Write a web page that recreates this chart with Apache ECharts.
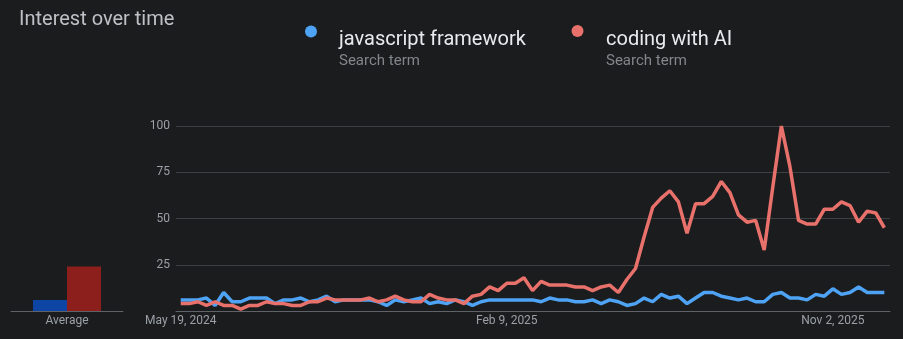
<!DOCTYPE html>
<html>
<head>
<meta charset="utf-8">
<script src="https://cdn.jsdelivr.net/npm/echarts@6/dist/echarts.min.js"></script>
<style>
  html, body { margin: 0; padding: 0; background: #1b1c1e; }
  #chart { width: 903px; height: 339px; }
</style>
</head>
<body>
<div id="chart"></div>
<script>
// ---- data ----
const seriesNames = ['javascript framework', 'coding with AI'];
const startWeek = '2024-05-19';           // first weekly point
const tickIndices = [0, 38, 76];
const tickLabels = ['May 19, 2024', 'Feb 9, 2025', 'Nov 2, 2025'];
const javascriptFramework = [
  6, 6, 6, 7, 3, 10, 5, 5, 7, 7,
  7, 4, 6, 6, 7, 5, 6, 8, 5, 6,
  6, 6, 6, 5, 3, 6, 5, 6, 7, 4,
  5, 4, 6, 5, 3, 5, 6, 6, 6, 6,
  6, 6, 5, 7, 6, 6, 5, 5, 6, 4,
  6, 5, 3, 4, 7, 5, 9, 7, 8, 4,
  7, 10, 10, 8, 7, 6, 7, 5, 5, 9,
  10, 7, 7, 6, 9, 8, 12, 9, 10, 13,
  10, 10, 10
];
const codingWithAI = [
  4, 4, 5, 3, 5, 3, 3, 1, 3, 3,
  5, 4, 4, 3, 3, 5, 5, 7, 6, 6,
  6, 6, 7, 5, 6, 8, 6, 5, 5, 9,
  7, 6, 6, 4, 8, 9, 13, 11, 15, 15,
  18, 11, 16, 14, 14, 14, 13, 13, 11, 13,
  14, 10, 17, 23, 40, 56, 61, 65, 59, 42,
  58, 58, 62, 70, 64, 52, 48, 49, 33, 67,
  100, 78, 49, 47, 47, 55, 55, 59, 57, 48,
  54, 53, 45
];
const averageCategory = ['Average'];
const averageJavascript = [6];
const averageCodingAI = [24];

// ---- styles ----
const BLUE = '#4ea3f5';
const RED = '#e8716b';
const BAR_BLUE = '#0c45a3';
const BAR_RED = '#8c1f1c';
const LABEL = '#9aa0a6';
const FONT = 'Roboto, "Noto Sans", sans-serif';

const toPairs = arr => arr.map((v, i) => [i, v]);

const chart = echarts.init(document.getElementById('chart'), null, { renderer: 'canvas' });
chart.setOption({
  backgroundColor: '#1b1c1e',
  animation: false,
  textStyle: { fontFamily: FONT },
  graphic: [
    { type: 'text', x: 19, y: 20, style: { text: 'Interest over time', fill: '#bdc1c6', font: '20px ' + FONT, verticalAlign: 'middle' } },
    { type: 'circle', shape: { cx: 311, cy: 31.5, r: 6 }, style: { fill: BLUE } },
    { type: 'text', x: 339, y: 39.5, style: { text: seriesNames[0], fill: '#e8eaed', font: '20px ' + FONT, verticalAlign: 'middle' } },
    { type: 'text', x: 339, y: 61, style: { text: 'Search term', fill: '#80868b', font: '15px ' + FONT, verticalAlign: 'middle' } },
    { type: 'circle', shape: { cx: 577.5, cy: 31, r: 6 }, style: { fill: RED } },
    { type: 'text', x: 606, y: 39.5, style: { text: seriesNames[1], fill: '#e8eaed', font: '20px ' + FONT, verticalAlign: 'middle' } },
    { type: 'text', x: 606, y: 61, style: { text: 'Search term', fill: '#80868b', font: '15px ' + FONT, verticalAlign: 'middle' } }
  ],
  grid: [
    { left: 11, width: 112, top: 126, bottom: 28 },
    { left: 176, right: 13, top: 126, bottom: 28 }
  ],
  xAxis: [
    {
      gridIndex: 0, type: 'category', data: averageCategory,
      axisLine: { lineStyle: { color: '#5f6368', width: 1 } },
      axisTick: { show: false },
      axisLabel: { color: LABEL, fontSize: 12, margin: 4, fontFamily: FONT }
    },
    {
      gridIndex: 1, type: 'value', min: -0.55, max: 82.66,
      splitLine: { show: false },
      axisLine: { show: true, onZero: false, lineStyle: { color: '#5f6368', width: 1 } },
      axisTick: { show: false },
      axisLabel: {
        color: LABEL, fontSize: 12, margin: 4, fontFamily: FONT,
        customValues: tickIndices,
        formatter: v => { const k = tickIndices.indexOf(Math.round(v)); return k >= 0 ? tickLabels[k] : ''; }
      }
    }
  ],
  yAxis: [
    { gridIndex: 0, type: 'value', min: 0, max: 100, show: false },
    {
      gridIndex: 1, type: 'value', min: 0, max: 100, interval: 25,
      axisLine: { show: false }, axisTick: { show: false },
      splitLine: { lineStyle: { color: '#3c4043', width: 1 } },
      axisLabel: { color: LABEL, fontSize: 12, margin: 6, fontFamily: FONT, formatter: v => v === 0 ? '' : String(v) }
    }
  ],
  series: [
    { name: seriesNames[0] + ' avg', type: 'bar', xAxisIndex: 0, yAxisIndex: 0, data: averageJavascript, barWidth: 34, barGap: '0%', itemStyle: { color: BAR_BLUE } },
    { name: seriesNames[1] + ' avg', type: 'bar', xAxisIndex: 0, yAxisIndex: 0, data: averageCodingAI, barWidth: 34, barGap: '0%', itemStyle: { color: BAR_RED } },
    { name: seriesNames[0], type: 'line', xAxisIndex: 1, yAxisIndex: 1, data: toPairs(javascriptFramework), symbol: 'none', clip: false, lineStyle: { color: BLUE, width: 3.5 }, z: 3 },
    { name: seriesNames[1], type: 'line', xAxisIndex: 1, yAxisIndex: 1, data: toPairs(codingWithAI), symbol: 'none', clip: false, lineStyle: { color: RED, width: 3.5 }, z: 4 }
  ]
});
</script>
</body>
</html>
